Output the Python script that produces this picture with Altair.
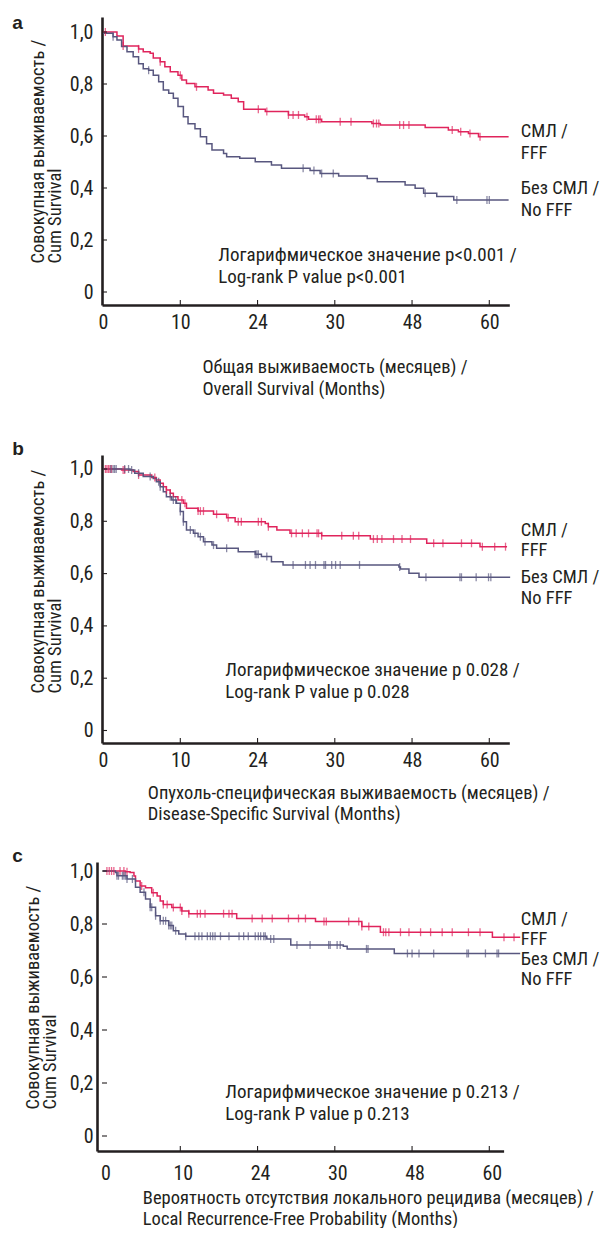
import json
import altair as alt
import numpy as np
import pandas as pd

FONT = "Liberation Sans Narrow, Arial Narrow, Roboto Condensed, DejaVu Sans Condensed, sans-serif"
BOLD_FONT = "Liberation Sans, Arial, Helvetica, sans-serif"
RED = "#e0245c"
BLUE = "#58577f"
INK = "#231f20"

# ---------------------------------------------------------------- text
X_TICK_LABELS = ["0", "10", "24", "30", "48", "60"]   # printed at evenly spaced positions 0..5
X_TICK_POS = [0, 1, 2, 3, 4, 5]
Y_TICK_VALUES = [0, 0.2, 0.4, 0.6, 0.8, 1.0]
Y_TITLE = ["Совокупная выживаемость /", "Cum Survival"]
LEGEND_FFF = ["СМЛ /", "FFF"]
LEGEND_NO = ["Без СМЛ /", "No FFF"]
X_TITLES = {
    "a": ["Общая выживаемость (месяцев) /", "Overall Survival (Months)"],
    "b": ["Опухоль-специфическая выживаемость (месяцев) /", "Disease-Specific Survival (Months)"],
    "c": ["Вероятность отсутствия локального рецидива (месяцев) /", "Local Recurrence-Free Probability (Months)"],
}
P_TEXT = {
    "a": ["Логарифмическое значение p<0.001 /", "Log-rank P value p<0.001"],
    "b": ["Логарифмическое значение p 0.028 /", "Log-rank P value p 0.028"],
    "c": ["Логарифмическое значение p 0.213 /", "Log-rank P value p 0.213"],
}

# ---------------------------------------------------------------- data
# x values are in axis units (0..5 = the six printed tick labels)
# Panel a – Overall survival
A_FFF_X = [0.00, 0.18, 0.26, 0.46, 0.52, 0.61, 0.65, 0.74, 0.80, 0.87, 0.97, 1.02, 1.08, 1.19, 1.36, 1.43,
           1.56, 1.66, 1.75, 1.82, 2.10, 2.40, 2.61, 2.66, 2.83, 3.48, 3.59, 4.17, 4.47, 4.60, 4.73, 4.86, 5.25]
A_FFF_S = [1.000, 0.985, 0.946, 0.935, 0.924, 0.918, 0.900, 0.886, 0.866, 0.847, 0.834, 0.815, 0.802, 0.789,
           0.777, 0.764, 0.758, 0.745, 0.732, 0.703, 0.694, 0.681, 0.674, 0.664, 0.655, 0.648, 0.642, 0.633,
           0.623, 0.616, 0.610, 0.597, 0.597]
A_FFF_CENSOR = [0.03, 0.26, 0.46, 0.74, 1.00, 1.21, 2.01, 2.12, 2.40, 2.46, 2.53, 2.64, 2.76, 2.79, 2.81,
                3.07, 3.21, 3.50, 3.54, 3.57, 3.84, 3.89, 3.96, 4.52, 4.63, 4.75, 4.88]
A_NO_X = [0.00, 0.13, 0.18, 0.24, 0.31, 0.39, 0.46, 0.52, 0.59, 0.65, 0.72, 0.78, 0.85, 0.91, 0.97, 1.04,
          1.10, 1.19, 1.26, 1.34, 1.41, 1.56, 1.60, 1.77, 1.97, 2.18, 2.31, 2.68, 2.81, 3.05, 3.42, 3.55,
          3.91, 4.04, 4.15, 4.32, 4.54, 5.25]
A_NO_S = [0.995, 0.982, 0.969, 0.944, 0.924, 0.905, 0.878, 0.859, 0.853, 0.834, 0.809, 0.777, 0.764, 0.745,
          0.713, 0.674, 0.647, 0.628, 0.597, 0.570, 0.546, 0.533, 0.520, 0.514, 0.501, 0.488, 0.476, 0.467,
          0.456, 0.446, 0.437, 0.424, 0.412, 0.399, 0.380, 0.367, 0.354, 0.354]
A_NO_CENSOR = [0.13, 0.59, 2.59, 2.73, 2.83, 2.98, 4.17, 4.58, 4.97, 5.00]

# Panel b – Disease-specific survival
B_FFF_X = [0.00, 0.24, 0.39, 0.46, 0.63, 0.69, 0.74, 0.78, 0.82, 0.87, 0.91, 0.97, 1.04, 1.08, 1.23, 1.43,
           1.60, 1.71, 2.10, 2.14, 2.25, 2.42, 2.83, 3.46, 4.19, 4.88, 5.23]
B_FFF_S = [1.000, 0.996, 0.990, 0.977, 0.967, 0.958, 0.945, 0.932, 0.920, 0.907, 0.894, 0.881, 0.869, 0.850,
           0.839, 0.827, 0.814, 0.798, 0.792, 0.779, 0.767, 0.754, 0.745, 0.732, 0.716, 0.703, 0.703]
B_FFF_CENSOR = [0.03, 0.05, 0.07, 0.09, 0.11, 0.26, 0.28, 0.46, 0.67, 0.82, 0.87, 1.02, 1.06, 1.23, 1.26,
                1.30, 1.47, 1.62, 1.75, 1.79, 2.01, 2.05, 2.14, 2.44, 2.50, 2.58, 2.66, 2.77, 2.79, 2.83,
                3.09, 3.24, 3.31, 3.50, 3.55, 3.61, 3.76, 3.87, 3.98, 4.28, 4.40, 4.64, 4.77, 4.91, 5.07, 5.21]
B_NO_X = [0.00, 0.35, 0.41, 0.52, 0.65, 0.69, 0.74, 0.78, 0.82, 0.89, 0.95, 1.00, 1.04, 1.08, 1.17, 1.23,
          1.30, 1.41, 1.47, 1.75, 1.97, 2.05, 2.18, 2.33, 3.83, 3.85, 3.96, 4.09, 5.27]
B_NO_S = [1.000, 0.996, 0.984, 0.971, 0.964, 0.951, 0.932, 0.913, 0.894, 0.881, 0.869, 0.837, 0.798, 0.767,
          0.754, 0.741, 0.722, 0.709, 0.697, 0.684, 0.674, 0.665, 0.645, 0.633, 0.625, 0.618, 0.601, 0.586,
          0.586]
B_NO_CENSOR = [0.10, 0.13, 0.15, 0.17, 0.28, 0.33, 0.37, 0.46, 0.61, 0.72, 0.74, 0.87, 0.91, 0.94, 1.00,
               1.04, 1.13, 1.19, 1.26, 1.32, 1.43, 1.60, 1.97, 1.99, 2.01, 2.12, 2.46, 2.62, 2.68, 2.75,
               2.86, 2.88, 2.96, 3.01, 3.07, 3.32, 3.84, 4.18, 4.62, 4.64, 4.83, 4.99, 5.02]

# Panel c – Local recurrence-free probability
C_FFF_X = [0.00, 0.29, 0.35, 0.40, 0.42, 0.48, 0.55, 0.63, 0.70, 0.74, 0.78, 0.89, 1.02, 1.11, 1.73, 2.75,
           3.35, 3.59, 5.04, 5.40]
C_FFF_S = [1.000, 0.997, 0.994, 0.981, 0.962, 0.943, 0.937, 0.918, 0.906, 0.887, 0.874, 0.862, 0.849, 0.839,
           0.821, 0.809, 0.791, 0.769, 0.750, 0.750]
C_FFF_CENSOR = [0.05, 0.08, 0.11, 0.14, 0.22, 0.27, 0.31, 0.50, 0.65, 0.78, 0.83, 0.91, 1.00, 1.02, 1.11,
                1.22, 1.26, 1.32, 1.56, 1.63, 1.67, 1.93, 2.06, 2.19, 2.40, 2.53, 2.62, 2.86, 2.89, 3.18,
                3.31, 3.35, 3.44, 3.63, 3.66, 3.70, 3.85, 3.96, 4.11, 4.24, 4.39, 4.52, 4.73, 4.88, 5.19, 5.32]
C_NO_X = [0.00, 0.16, 0.18, 0.31, 0.42, 0.48, 0.55, 0.61, 0.68, 0.74, 0.85, 0.91, 0.98, 1.07, 2.12, 2.43,
          3.11, 3.16, 3.77, 5.40]
C_NO_S = [1.000, 0.994, 0.982, 0.970, 0.939, 0.920, 0.894, 0.863, 0.831, 0.812, 0.794, 0.775, 0.762, 0.754,
          0.743, 0.721, 0.716, 0.706, 0.689, 0.689]
C_NO_CENSOR = [0.18, 0.20, 0.25, 0.27, 0.29, 0.31, 0.38, 0.53, 0.61, 0.63, 0.68, 0.74, 0.78, 0.81, 0.85,
               0.87, 0.89, 0.94, 1.07, 1.19, 1.24, 1.28, 1.35, 1.39, 1.42, 1.45, 1.52, 1.63, 1.76, 1.82,
               1.88, 1.97, 2.01, 2.04, 2.08, 2.10, 2.17, 2.21, 2.51, 2.68, 2.92, 2.94, 3.03, 3.07, 3.41,
               3.43, 3.94, 4.00, 4.09, 4.28, 4.71, 4.73, 4.95, 5.10, 5.12]

# ---------------------------------------------------------------- layout (pixels, relative to each plot)
LAYOUT = {
    "a": dict(width=407.3, height=288, xdom=[-0.0136, 5.259], xrange=None, ydom=[-0.05, 1.0577],
              yoffset=0, ylabpad=9, ytick_x=(0, 5), xlabpad=17.5, xlaboff=0,
              xtitle_x=100, xtitle_y=61, xtitle_lh=22, ytitle_x=-65, ytitle_y=246,
              letter_xy=(-89.7, 12), ptext_xy=(116.3, 238), legend_x=418.8,
              legend_y=(114, 136, 171, 193)),
    "b": dict(width=407.3, height=288, xdom=[-0.0136, 5.259], xrange=None, ydom=[-0.0478, 1.0535],
              yoffset=0, ylabpad=9, ytick_x=(0, 5), xlabpad=17, xlaboff=0,
              xtitle_x=45.3, xtitle_y=49, xtitle_lh=21, ytitle_x=-65, ytitle_y=238,
              letter_xy=(-89.7, 0), ptext_xy=(123.3, 215), legend_x=418.8,
              legend_y=(75, 95, 121.7, 143.3)),
    # panel c: its y axis sits 5 px further left, so the x range starts at -5
    "c": dict(width=401.6, height=289, xdom=[-0.0783, 5.185], xrange=[-5, 401.6], ydom=[-0.0566, 1.034],
              yoffset=5, ylabpad=4, ytick_x=(0, 5), xlabpad=22, xlaboff=2.5,
              xtitle_x=40.3, xtitle_y=46, xtitle_lh=21, ytitle_x=-65, ytitle_y=247,
              letter_xy=(-89.7, 0), ptext_xy=(123.3, 230.3), legend_x=418.8,
              legend_y=(57, 77, 97, 117)),
}
SERIES = {
    "a": ((A_FFF_X, A_FFF_S, A_FFF_CENSOR), (A_NO_X, A_NO_S, A_NO_CENSOR)),
    "b": ((B_FFF_X, B_FFF_S, B_FFF_CENSOR), (B_NO_X, B_NO_S, B_NO_CENSOR)),
    "c": ((C_FFF_X, C_FFF_S, C_FFF_CENSOR), (C_NO_X, C_NO_S, C_NO_CENSOR)),
}

TITLE_SIZE = 18.5
LABEL_SIZE = 20
TEXT_SIZE = 19
LEGEND_SIZE = 18.5
LINE_H = 22


def step_at(xs, ss, u):
    i = int(np.searchsorted(np.asarray(xs), u, side="right")) - 1
    return ss[max(i, 0)]


def text_layer(txt, x, y, size=TEXT_SIZE):
    return alt.Chart(pd.DataFrame({"t": [txt]})).mark_text(
        align="left", baseline="middle", font=FONT, fontSize=size, color=INK
    ).encode(text="t:N", x=alt.value(x), y=alt.value(y))


def panel(key):
    L = LAYOUT[key]
    (fx, fs, fc), (nx, ns, nc) = SERIES[key]
    curves = pd.concat([
        pd.DataFrame({"u": fx, "s": fs, "g": "FFF"}),
        pd.DataFrame({"u": nx, "s": ns, "g": "NO"}),
    ])
    cens = pd.concat([
        pd.DataFrame({"u": fc, "s": [step_at(fx, fs, u) for u in fc], "g": "FFF"}),
        pd.DataFrame({"u": nc, "s": [step_at(nx, ns, u) for u in nc], "g": "NO"}),
    ])
    if L["xrange"] is not None:
        xs = alt.Scale(domain=L["xdom"], range=L["xrange"], nice=False, zero=False)
    else:
        xs = alt.Scale(domain=L["xdom"], nice=False, zero=False)
    ys = alt.Scale(domain=L["ydom"], nice=False, zero=False)
    cs = alt.Scale(domain=["FFF", "NO"], range=[RED, BLUE])

    xaxis = alt.Axis(
        values=X_TICK_POS, labelExpr=f"{json.dumps(X_TICK_LABELS)}[round(datum.value)]",
        ticks=False, tickSize=0, grid=False, domainColor=INK, domainWidth=2.6,
        labelFont=FONT, labelFontSize=LABEL_SIZE, labelColor=INK, labelPadding=L["xlabpad"],
        labelOffset=L["xlaboff"],
        labelBaseline="middle", labelAlign="center", labelFlush=False, labelOverlap=False,
        title=X_TITLES[key], titleFont=FONT, titleFontSize=TITLE_SIZE, titleFontWeight="normal",
        titleColor=INK, titleAlign="left", titleBaseline="middle", titleLineHeight=L["xtitle_lh"],
        titleX=L["xtitle_x"], titleY=L["xtitle_y"])
    yaxis = alt.Axis(
        values=Y_TICK_VALUES, offset=L["yoffset"],
        labelExpr="datum.value == 0 ? '0' : replace(format(datum.value, '.1f'), '.', ',')",
        ticks=False, tickSize=0, grid=False, domainColor=INK, domainWidth=2.6,
        labelFont=FONT, labelFontSize=LABEL_SIZE, labelColor=INK, labelPadding=L["ylabpad"],
        labelBaseline="middle", labelAlign="right", labelFlush=False, labelOverlap=False,
        title=Y_TITLE, titleFont=FONT, titleFontSize=TITLE_SIZE, titleFontWeight="normal",
        titleColor=INK, titleAngle=270, titleAlign="left", titleBaseline="middle",
        titleLineHeight=17, titleX=L["ytitle_x"], titleY=L["ytitle_y"])

    # every layer gets the same axis definition so the shared axis merges cleanly
    X = lambda f: alt.X(f, scale=xs, axis=xaxis)
    Y = lambda f: alt.Y(f, scale=ys, axis=yaxis)

    lines = alt.Chart(curves).mark_line(interpolate="step-after", strokeWidth=1.5).encode(
        x=X("u:Q"), y=Y("s:Q"),
        color=alt.Color("g:N", scale=cs, legend=None),
    )
    ticks = alt.Chart(cens).mark_tick(orient="vertical", size=8, thickness=1.3).encode(
        x=X("u:Q"), y=Y("s:Q"),
        color=alt.Color("g:N", scale=cs, legend=None),
    )
    ytk = alt.Chart(pd.DataFrame({"v": Y_TICK_VALUES})).mark_rule(color=INK, strokeWidth=1.1).encode(
        y=Y("v:Q"), x=alt.value(L["ytick_x"][0]), x2=alt.value(L["ytick_x"][1]),
    )
    xtk = alt.Chart(pd.DataFrame({"p": X_TICK_POS[1:]})).mark_rule(color=INK, strokeWidth=1.1).encode(
        x=X("p:Q"), y=alt.value(L["height"]), y2=alt.value(L["height"] - 5),
    )
    layers = [lines, ticks, ytk, xtk]
    lx, ly = L["letter_xy"]
    letter = alt.Chart(pd.DataFrame({"t": [key]})).mark_text(
        align="left", baseline="alphabetic", font=BOLD_FONT, fontSize=19, fontWeight="bold", color=INK
    ).encode(text="t:N", x=alt.value(lx), y=alt.value(ly))
    layers.append(letter)
    px, py = L["ptext_xy"]
    layers.append(text_layer(P_TEXT[key][0], px, py))
    layers.append(text_layer(P_TEXT[key][1], px, py + LINE_H))
    for txt, yy in zip(LEGEND_FFF + LEGEND_NO, L["legend_y"]):
        layers.append(text_layer(txt, L["legend_x"], yy, size=LEGEND_SIZE))
    return alt.layer(*layers).properties(width=L["width"], height=L["height"])


pa, pb, pc = panel("a"), panel("b"), panel("c")
top = alt.concat(pa, pb, columns=1, spacing=42)
chart = alt.concat(top, pc, columns=1, spacing=24).properties(
    padding={"left": 4, "top": 6, "right": 0, "bottom": 0},
    background="white",
).configure_view(stroke=None)

chart.save("out.html", embed_options={"renderer": "svg", "actions": False})
